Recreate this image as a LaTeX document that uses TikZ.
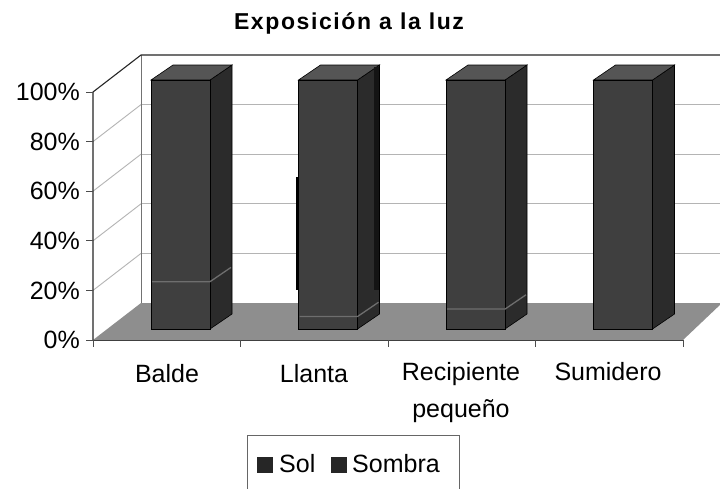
\documentclass[tikz,border=0pt]{standalone}
\usepackage{fontspec}
\setmainfont{Liberation Sans}
\definecolor{barfront}{HTML}{3F3F3F}
\definecolor{barside}{HTML}{2B2B2B}
\definecolor{bartop}{HTML}{555555}
\definecolor{floorgray}{HTML}{8E8E8E}
\definecolor{gridgray}{HTML}{B4B4B4}
\definecolor{splitgray}{HTML}{6E6E6E}
\begin{document}
\begin{tikzpicture}[x=1pt,y=-1pt,
  lbl/.style={font=\fontsize{25}{30}\selectfont, inner sep=0pt},
  gridln/.style={draw=gridgray, line width=0.9pt},
  frameln/.style={draw=black!85, line width=1.1pt},
  tickln/.style={draw=black!70, line width=0.8pt},
  barface/.style={draw=black, line width=0.6pt},
  splitln/.style={draw=splitgray, line width=1.3pt},
  keybox/.style={fill=black!85, minimum size=16pt, inner sep=0pt, anchor=north west}]
\useasboundingbox (0,0) rectangle (720,488);
\clip (0,0) rectangle (720,488);
\fill[white] (0,0) rectangle (720,488);
% title
\node[font=\fontsize{23}{28}\selectfont\bfseries\addfontfeature{LetterSpace=7}, anchor=base, inner sep=0pt] (title) at (349,29) {Exposición a la luz};
% gridlines on left and back walls
\foreach \k in {1,2,3,4}{
  \pgfmathsetmacro\yy{340-49.6*\k}
  \draw[gridln] (93,\yy) -- (141,{\yy-37});
  \draw[gridln] (141,{\yy-37}) -- (722,{\yy-37});
}
% floor
\fill[floorgray] (93,340) -- (683,340) -- (722,303) -- (141,303) -- cycle;
% frame
\draw[draw=black!55, line width=0.8pt] (141,55) -- (141,303);
\draw[frameln] (93,340) -- (93,92) -- (141,55) -- (722,55);
\draw[draw=black!75, line width=1pt] (93,340) -- (683,340);
% y ticks and labels
\foreach \v [count=\k from 0] in {0,20,40,60,80,100}{
  \pgfmathsetmacro\yy{340-49.6*\k}
  \draw[tickln] (86,\yy) -- (93,\yy);
  \node[lbl, anchor=east] (ylab\k) at (80,\yy) {\v\%};
}
% x ticks
\foreach \k in {0,1,2,3,4}{
  \draw[tickln] ({93+147.5*\k},340) -- ({93+147.5*\k},347);
}
% bars
\foreach \i/\s in {0/19,1/5,2/8,3/0}{
  \pgfmathsetmacro\xl{93+147.5*\i+58}
  \pgfmathsetmacro\xr{\xl+59}
  \pgfmathsetmacro\ys{329-2.49*\s}
  \filldraw[barface, fill=barside] (\xr,80) -- ({\xr+22},65) -- ({\xr+22},314) -- (\xr,329) -- cycle;
  \filldraw[barface, fill=bartop] (\xl,80) -- ({\xl+22},65) -- ({\xr+22},65) -- (\xr,80) -- cycle;
  \filldraw[barface, fill=barfront] (\xl,80) rectangle (\xr,329);
  \ifnum\s>0
    \draw[splitln] ({\xl+1},\ys) -- (\xr,\ys) -- ({\xr+21},{\ys-14.3});
  \fi
}
% scan marks near Llanta
\fill[black] (295.5,177) rectangle (298.5,290);
\fill[black!92] (374,67) rectangle (378.5,290);
% category labels
\node[lbl, anchor=base] (cat1) at (167,382) {Balde};
\node[lbl, anchor=base] (cat2) at (314,382) {Llanta};
\node[lbl, anchor=base] (cat3) at (461,380) {Recipiente};
\node[lbl, anchor=base] (cat3b) at (461,417) {pequeño};
\node[lbl, anchor=base] (cat4) at (608,380) {Sumidero};
% legend
\node[draw=black!60, line width=0.8pt, minimum width=212pt, minimum height=60pt, anchor=north west, inner sep=0pt] (legend) at (247,435) {};
\node[keybox] (solkey) at (257,457) {};
\node[lbl, anchor=base west] (soltext) at (279,472) {Sol};
\node[keybox] (sombrakey) at (331,457) {};
\node[lbl, anchor=base west] (sombratext) at (352,472) {Sombra};
\end{tikzpicture}
\end{document}
